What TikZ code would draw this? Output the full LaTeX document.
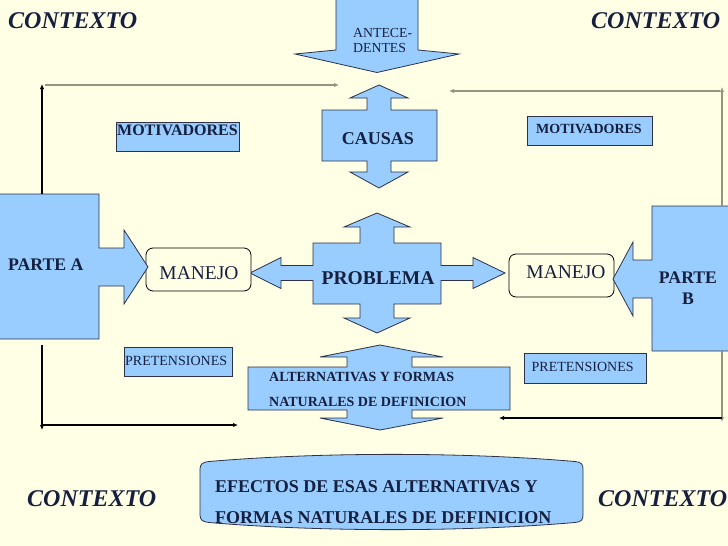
\documentclass[tikz,border=0pt]{standalone}
\usepackage{fontspec}
\setmainfont{Liberation Serif}
\usetikzlibrary{arrows.meta}
\definecolor{bg}{RGB}{255,255,230}
\definecolor{lblue}{RGB}{153,204,255}
\definecolor{edgec}{RGB}{45,50,70}
\definecolor{ink}{RGB}{22,32,62}
\definecolor{gline}{RGB}{150,148,128}
\begin{document}
\begin{tikzpicture}[x=1pt,y=-1pt,
  bshape/.style={fill=lblue,draw=edgec,line width=0.8pt,line join=miter},
  rbox/.style={fill=bg,draw=black,line width=0.8pt,rounded corners=7pt},
  txt/.style={inner sep=0pt,text=ink,font=\fontsize{#1}{#1}\selectfont},
  btxt/.style={inner sep=0pt,text=ink,font=\fontsize{#1}{#1}\selectfont\bfseries},
  ctx/.style={inner sep=0pt,text=ink,font=\fontsize{24}{24}\selectfont\bfseries\itshape,anchor=base west},
  blk/.style={draw=black,line width=1.2pt,-{Latex[length=5pt,width=4.5pt]}},
  gry/.style={draw=gline,line width=1.5pt,-{Latex[length=5pt,width=4.5pt]}}]
\fill[bg] (0,0) rectangle (728,546);
\useasboundingbox (0,0) rectangle (728,546);
\clip (0,0) rectangle (728,546);

% CONTEXTO labels
\node[ctx] (ctxtl) at (8,28) {CONTEXTO};
\node[ctx] (ctxtr) at (591,28) {CONTEXTO};
\node[ctx] (ctxbl) at (27,506) {CONTEXTO};
\node[ctx] (ctxbr) at (598,506) {CONTEXTO};

% ANTECEDENTES arrow
\draw[bshape] (336,-3) -- (418,-3) -- (418,50) -- (459,54) -- (377,72.5) -- (295,54) -- (336,50) -- cycle;
\node[txt=13.8,anchor=base west] (ante1) at (353,37.3) {ANTECE-};
\node[txt=13.8,anchor=base west] (ante2) at (353,52.3) {DENTES};

% CAUSAS double arrow
\draw[bshape] (379,85) -- (408,98) -- (391,98) -- (391,110) -- (437,110) -- (437,161) -- (391,161) -- (391,172) -- (408,172) -- (379,188) -- (350,172) -- (367,172) -- (367,161) -- (322,161) -- (322,110) -- (367,110) -- (367,98) -- (350,98) -- cycle;
\node[btxt=18,anchor=base] (causas) at (378,144) {CAUSAS};

% PROBLEMA four-way arrow
\draw[bshape] (377,213) -- (410,227) -- (394,227) -- (394,243) -- (441,243) -- (441,265.5) -- (473,265.5) -- (473,257.5) -- (505,273) -- (473,288.5) -- (473,280.5) -- (441,280.5) -- (441,304) -- (394,304) -- (394,318) -- (410,318) -- (377,333) -- (344,318) -- (360,318) -- (360,304) -- (313,304) -- (313,280.5) -- (281,280.5) -- (281,288.5) -- (250,273) -- (281,257.5) -- (281,265.5) -- (313,265.5) -- (313,243) -- (360,243) -- (360,227) -- (344,227) -- cycle;
\node[btxt=19.5,anchor=base] (problema) at (378,284) {PROBLEMA};

% MANEJO boxes
\draw[rbox] (146,248) rectangle (251,291);
\node[txt=19.5,anchor=base] (manejoL) at (199,279.3) {MANEJO};
\draw[rbox] (509,254) rectangle (614,297);
\node[txt=19.5,anchor=base] (manejoR) at (566,278.3) {MANEJO};

% PARTE A
\draw[bshape] (-3,194) -- (99,194) -- (99,248) -- (124,248) -- (124,230) -- (148,267) -- (124,304) -- (124,286) -- (99,286) -- (99,339) -- (-3,339) -- cycle;
\node[btxt=17.7,anchor=base west] (parteA) at (8,270.7) {PARTE A};

% PARTE B
\draw[bshape] (731,206) -- (652,206) -- (652,260) -- (633,260) -- (633,242) -- (613,279) -- (633,316) -- (633,298) -- (652,298) -- (652,351) -- (731,351) -- cycle;
\node[btxt=17.7,anchor=base] (parteB1) at (688,283.3) {PARTE};
\node[btxt=17.7,anchor=base] (parteB2) at (688,304) {B};

% MOTIVADORES
\draw[bshape] (116,122) rectangle (239,151);
\node[btxt=16,anchor=base] (motL) at (177.5,135) {MOTIVADORES};
\draw[bshape] (527,116) rectangle (652,145);
\node[btxt=14,anchor=base] (motR) at (589,133.3) {MOTIVADORES};

% PRETENSIONES
\draw[bshape] (124,347) rectangle (232,376);
\node[txt=14,anchor=base west] (preL) at (125,365) {PRETENSIONES};
\draw[bshape] (524,353) rectangle (646,383);
\node[txt=14,anchor=base west] (preR) at (531.5,371.7) {PRETENSIONES};

% ALTERNATIVAS double arrow
\draw[bshape] (380,345) -- (443,357) -- (412,357) -- (412,367) -- (510,367) -- (510,410) -- (412,410) -- (412,418) -- (443,418) -- (380,430) -- (320,418) -- (347,418) -- (347,410) -- (248,410) -- (248,367) -- (347,367) -- (347,357) -- (320,357) -- cycle;
\node[btxt=14,anchor=base west] (alt1) at (269,381.7) {ALTERNATIVAS Y FORMAS};
\node[btxt=14,anchor=base west] (alt2) at (269,406) {NATURALES DE DEFINICION};

% EFECTOS
\draw[bshape] (200,469) .. controls (200,464) and (203,462) .. (209,461.5)
  .. controls (320,452) and (465,452) .. (575,461.5)
  .. controls (581,462) and (583,464) .. (583,469) -- (583,515)
  .. controls (583,520) and (581,522) .. (575,522.5)
  .. controls (465,532) and (320,532) .. (209,522.5)
  .. controls (203,522) and (200,520) .. (200,515) -- cycle;
\node[btxt=18,anchor=base west] (efe1) at (215,492.7) {EFECTOS DE ESAS ALTERNATIVAS Y};
\node[btxt=18,anchor=base west] (efe2) at (215,523) {FORMAS NATURALES DE DEFINICION};

% connector end points
\coordinate (aTop) at (42,194);
\coordinate (aUp) at (42,84);
\coordinate (aH0) at (45,85);
\coordinate (aH1) at (339,85);
\coordinate (bTop) at (722,206);
\coordinate (bUp) at (722,87);
\coordinate (bH0) at (720,91);
\coordinate (bH1) at (449,91);
\coordinate (aBot) at (42,345);
\coordinate (aDn) at (42,430);
\coordinate (aB0) at (42,425);
\coordinate (aB1) at (238,425);
\coordinate (bBot) at (722,351);
\coordinate (bDn) at (722,422);
\coordinate (bB0) at (722,418);
\coordinate (bB1) at (499,418);

\draw[blk] (aTop) -- (aUp);
\draw[gry] (aH0) -- (aH1);
\draw[gry] (bTop) -- (bUp);
\draw[gry] (bH0) -- (bH1);
\draw[blk] (aBot) -- (aDn);
\draw[blk] (aB0) -- (aB1);
\draw[gry] (bBot) -- (bDn);
\draw[blk] (bB0) -- (bB1);
\end{tikzpicture}
\end{document}
